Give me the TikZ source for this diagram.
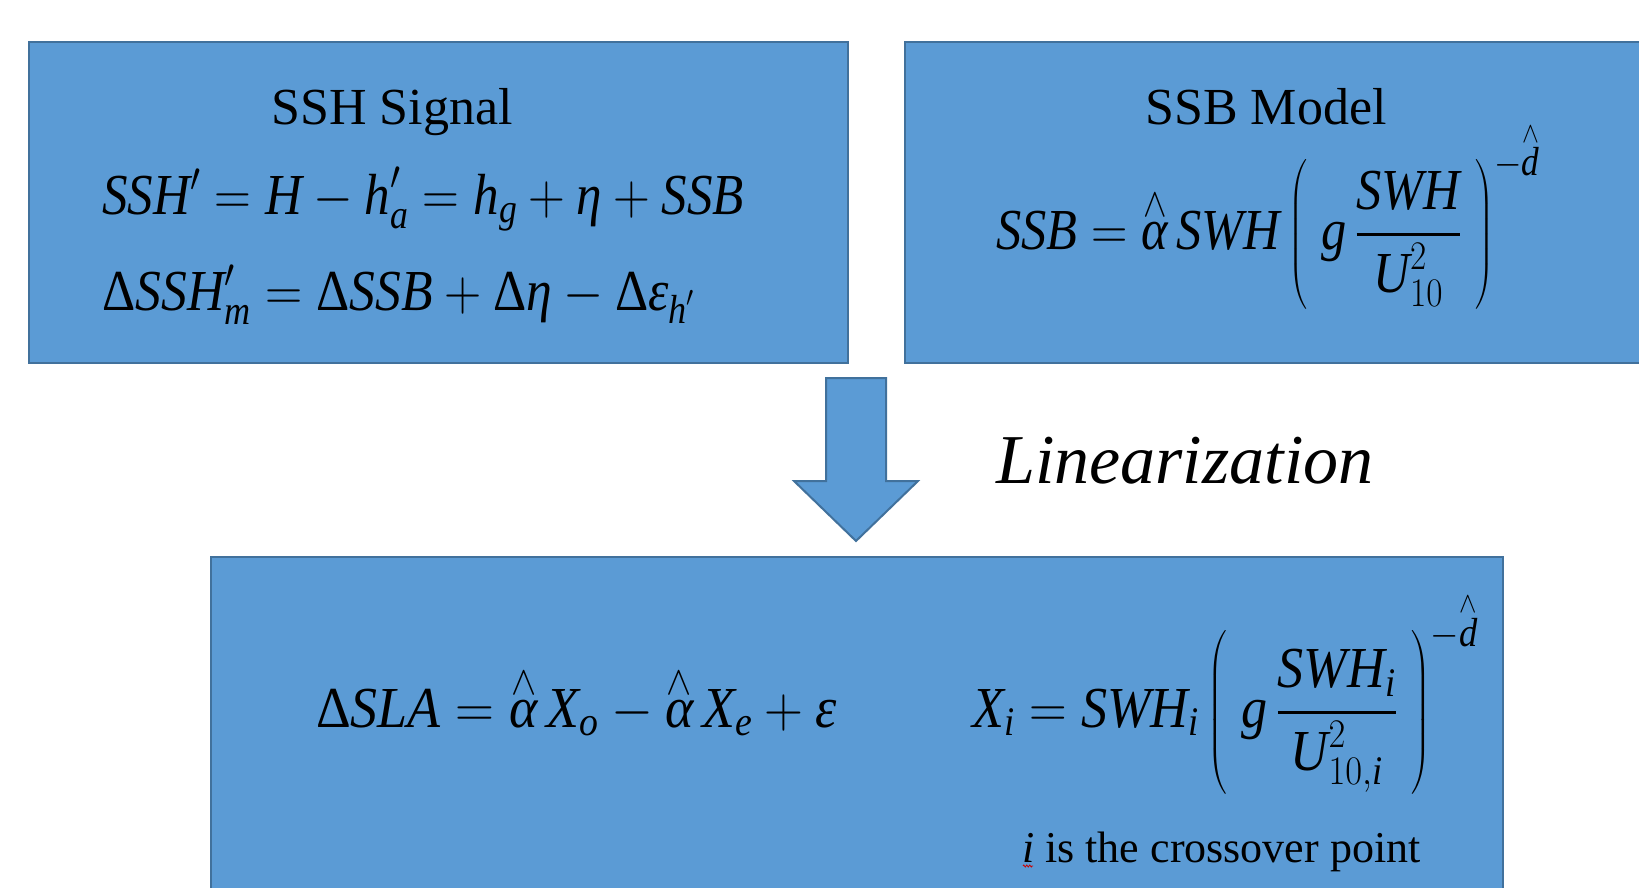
\RequirePackage{fix-cm}
\documentclass[tikz,border=0pt]{standalone}
\usepackage{amsmath}
\usepackage{fontspec}
\setmainfont{Liberation Serif}
\usetikzlibrary{decorations.pathmorphing}
\definecolor{boxfill}{HTML}{5B9BD5}
\definecolor{boxline}{HTML}{41719C}
\newcommand\I[1]{\textit{#1}}
\newcommand\U[1]{\textup{#1}}
\newcommand\hatop[1]{\overset{\wedge}{#1}}
\newcommand\sqz[2]{\scalebox{#1}[1]{#2}}
\newcommand\thfrac[2]{\genfrac{}{}{2.6pt}{0}{#1}{#2}}
\tikzset{
  panel/.style={draw=boxline, fill=boxfill, line width=2pt},
  ttl/.style={font=\fontsize{52}{62}\selectfont, anchor=base, inner sep=0pt},
  eq/.style={font=\fontsize{58}{70}\selectfont, anchor=base west, inner sep=0pt},
  lin/.style={font=\fontsize{70}{84}\selectfont\itshape, anchor=base west, inner sep=0pt},
  note/.style={font=\fontsize{44}{52}\selectfont, anchor=base west, inner sep=0pt},
}
\begin{document}
\begin{tikzpicture}[x=1pt,y=-1pt]
\useasboundingbox (0,0) rectangle (1639,888);
\fill[white] (0,0) rectangle (1639,888);
% panels
\draw[panel] (29,42) rectangle (848,363);
\draw[panel] (905,42) rectangle (1660,363);
\draw[panel] (211,557) rectangle (1503,910);
% block arrow
\draw[panel] (826,378) -- (886,378) -- (886,481) -- (918,481) -- (856,541)
  -- (794,481) -- (826,481) -- cycle;
% left panel
\node[ttl] (t1) at (392,125) {SSH Signal};
\node[eq] (f1) at (102,214) {\sqz{0.88}{$\I{SSH}^{\prime} = \I{H} - \I{h}^{\prime}_{\I{a}} = \I{h}_{\I{g}} + \I{η} + \I{SSB}$}};
\node[eq] (f2) at (102,310) {\sqz{0.89}{$\U{Δ}\I{SSH}^{\prime}_{\I{m}} = \U{Δ}\I{SSB} + \U{Δ}\I{η} - \U{Δ}\I{ε}_{\I{h}^{\prime}}$}};
% right panel
\node[ttl] (t2) at (1266,125) {SSB Model};
\node[eq] (f3) at (996,249) {\sqz{0.87}{$\I{SSB} = \hatop{\I{α}}\,\I{SWH}\left(\;\I{g}\,\thfrac{\I{SWH}}{\I{U}^{2}_{10}}\;\right)^{-\hatop{\I{d}}}$}};
% linearization
\node[lin] (lin) at (996,483) {Linearization};
% bottom panel
\node[eq] (f4) at (316,727) {\sqz{0.93}{$\U{Δ}\I{SLA} = \hatop{\I{α}}\,\I{X}_{\I{o}} - \hatop{\I{α}}\,\I{X}_{\I{e}} + \I{ε}$}};
\node[eq] (f5) at (972,727) {\sqz{0.90}{$\I{X}_{\I{i}} = \I{SWH}_{\I{i}}\left(\;\I{g}\,\thfrac{\I{SWH}_{\I{i}}}{\I{U}^{2}_{10,\I{i}}}\;\right)^{-\hatop{\I{d}}}$}};
\node[note] (nt) at (1022,862) {\textit{i} is the crossover point};
\draw[red!80!black, line width=0.8pt, decorate, decoration={zigzag, amplitude=1pt, segment length=3pt}]
  ([xshift=1pt,yshift=-4pt]nt.base west) -- ([xshift=11pt,yshift=-4pt]nt.base west);
\end{tikzpicture}
\end{document}
